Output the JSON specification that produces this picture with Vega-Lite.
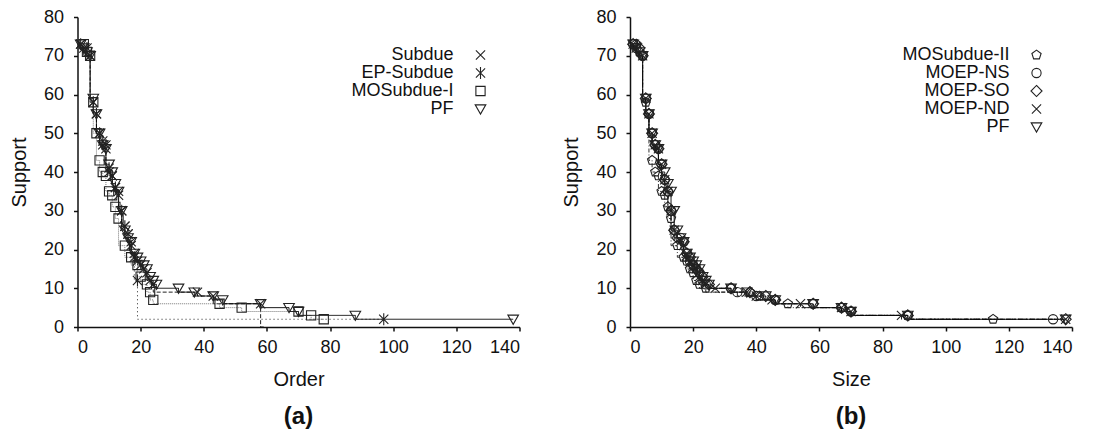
{
  "$schema": "https://vega.github.io/schema/vega-lite/v6.json",
  "background": "white",
  "padding": {"left": 8.5, "top": 8, "right": 9, "bottom": 0},
  "spacing": 39.5,
  "config": {
    "font": "Liberation Sans",
    "view": {"stroke": null},
    "axis": {"domainColor": "#111", "domainWidth": 1.5, "tickColor": "#111", "tickWidth": 1.5, "tickSize": 4, "labelFont": "Liberation Sans", "labelFontSize": 18, "labelColor": "#111", "titleFont": "Liberation Sans", "titleFontSize": 20, "titleFontWeight": "normal", "titleColor": "#111", "grid": false},
    "axisX": {"labelPadding": 7, "titlePadding": 13},
    "axisY": {"labelPadding": 10, "titlePadding": 14},
    "title": {"font": "Liberation Sans", "fontSize": 24, "fontWeight": "bold", "color": "#111"}
  },
  "datasets": {
    "a": [
      {"series": "Subdue", "x": 1, "support": 73}, {"series": "Subdue", "x": 2, "support": 72}, {"series": "Subdue", "x": 4, "support": 70}, {"series": "Subdue", "x": 5, "support": 58}, {"series": "Subdue", "x": 6, "support": 55}, {"series": "Subdue", "x": 7, "support": 50}, {"series": "Subdue", "x": 8, "support": 47}, {"series": "Subdue", "x": 9, "support": 46}, {"series": "Subdue", "x": 10, "support": 40}, {"series": "Subdue", "x": 11, "support": 39}, {"series": "Subdue", "x": 12, "support": 36}, {"series": "Subdue", "x": 13, "support": 35}, {"series": "Subdue", "x": 14, "support": 30}, {"series": "Subdue", "x": 15, "support": 26}, {"series": "Subdue", "x": 16, "support": 24}, {"series": "Subdue", "x": 17, "support": 22}, {"series": "Subdue", "x": 18, "support": 19}, {"series": "Subdue", "x": 19, "support": 17}, {"series": "Subdue", "x": 20, "support": 16}, {"series": "Subdue", "x": 21, "support": 15}, {"series": "Subdue", "x": 22, "support": 14}, {"series": "Subdue", "x": 23, "support": 12}, {"series": "Subdue", "x": 24, "support": 11}, {"series": "Subdue", "x": 38, "support": 9}, {"series": "Subdue", "x": 43, "support": 8}, {"series": "Subdue", "x": 58, "support": 6}, {"series": "Subdue", "x": 59, "support": 0},
      {"series": "EP-Subdue", "x": 1, "support": 73}, {"series": "EP-Subdue", "x": 3, "support": 72}, {"series": "EP-Subdue", "x": 4, "support": 70}, {"series": "EP-Subdue", "x": 5, "support": 58}, {"series": "EP-Subdue", "x": 6, "support": 55}, {"series": "EP-Subdue", "x": 7, "support": 50}, {"series": "EP-Subdue", "x": 8, "support": 48}, {"series": "EP-Subdue", "x": 9, "support": 47}, {"series": "EP-Subdue", "x": 10, "support": 41}, {"series": "EP-Subdue", "x": 11, "support": 39}, {"series": "EP-Subdue", "x": 12, "support": 36}, {"series": "EP-Subdue", "x": 13, "support": 34}, {"series": "EP-Subdue", "x": 14, "support": 30}, {"series": "EP-Subdue", "x": 15, "support": 26}, {"series": "EP-Subdue", "x": 16, "support": 24}, {"series": "EP-Subdue", "x": 17, "support": 21}, {"series": "EP-Subdue", "x": 18, "support": 18}, {"series": "EP-Subdue", "x": 19, "support": 12}, {"series": "EP-Subdue", "x": 97, "support": 2},
      {"series": "MOSubdue-I", "x": 2, "support": 73}, {"series": "MOSubdue-I", "x": 3, "support": 71}, {"series": "MOSubdue-I", "x": 4, "support": 70}, {"series": "MOSubdue-I", "x": 5, "support": 58}, {"series": "MOSubdue-I", "x": 6, "support": 50}, {"series": "MOSubdue-I", "x": 7, "support": 43}, {"series": "MOSubdue-I", "x": 8, "support": 40}, {"series": "MOSubdue-I", "x": 9, "support": 39}, {"series": "MOSubdue-I", "x": 10, "support": 35}, {"series": "MOSubdue-I", "x": 11, "support": 34}, {"series": "MOSubdue-I", "x": 12, "support": 31}, {"series": "MOSubdue-I", "x": 13, "support": 28}, {"series": "MOSubdue-I", "x": 15, "support": 21}, {"series": "MOSubdue-I", "x": 17, "support": 18}, {"series": "MOSubdue-I", "x": 19, "support": 16}, {"series": "MOSubdue-I", "x": 20, "support": 13}, {"series": "MOSubdue-I", "x": 22, "support": 11}, {"series": "MOSubdue-I", "x": 23, "support": 9}, {"series": "MOSubdue-I", "x": 24, "support": 7}, {"series": "MOSubdue-I", "x": 45, "support": 6}, {"series": "MOSubdue-I", "x": 52, "support": 5}, {"series": "MOSubdue-I", "x": 70, "support": 4}, {"series": "MOSubdue-I", "x": 74, "support": 3}, {"series": "MOSubdue-I", "x": 78, "support": 2},
      {"series": "PF", "x": 1, "support": 73}, {"series": "PF", "x": 2, "support": 72}, {"series": "PF", "x": 3, "support": 71}, {"series": "PF", "x": 4, "support": 70}, {"series": "PF", "x": 5, "support": 59}, {"series": "PF", "x": 6, "support": 55}, {"series": "PF", "x": 7, "support": 50}, {"series": "PF", "x": 8, "support": 47}, {"series": "PF", "x": 9, "support": 46}, {"series": "PF", "x": 10, "support": 42}, {"series": "PF", "x": 11, "support": 40}, {"series": "PF", "x": 12, "support": 37}, {"series": "PF", "x": 13, "support": 35}, {"series": "PF", "x": 14, "support": 30}, {"series": "PF", "x": 15, "support": 25}, {"series": "PF", "x": 16, "support": 23}, {"series": "PF", "x": 17, "support": 22}, {"series": "PF", "x": 18, "support": 19}, {"series": "PF", "x": 19, "support": 18}, {"series": "PF", "x": 20, "support": 17}, {"series": "PF", "x": 21, "support": 16}, {"series": "PF", "x": 22, "support": 15}, {"series": "PF", "x": 23, "support": 13}, {"series": "PF", "x": 24, "support": 12}, {"series": "PF", "x": 25, "support": 11}, {"series": "PF", "x": 32, "support": 10}, {"series": "PF", "x": 37, "support": 9}, {"series": "PF", "x": 43, "support": 8}, {"series": "PF", "x": 46, "support": 7}, {"series": "PF", "x": 58, "support": 6}, {"series": "PF", "x": 67, "support": 5}, {"series": "PF", "x": 70, "support": 4}, {"series": "PF", "x": 88, "support": 3}, {"series": "PF", "x": 138, "support": 2}
    ],
    "b": [
      {"series": "MOSubdue-II", "x": 2, "support": 73}, {"series": "MOSubdue-II", "x": 3, "support": 71}, {"series": "MOSubdue-II", "x": 4, "support": 70}, {"series": "MOSubdue-II", "x": 5, "support": 58}, {"series": "MOSubdue-II", "x": 6, "support": 55}, {"series": "MOSubdue-II", "x": 7, "support": 43}, {"series": "MOSubdue-II", "x": 8, "support": 40}, {"series": "MOSubdue-II", "x": 9, "support": 39}, {"series": "MOSubdue-II", "x": 10, "support": 35}, {"series": "MOSubdue-II", "x": 11, "support": 34}, {"series": "MOSubdue-II", "x": 12, "support": 31}, {"series": "MOSubdue-II", "x": 13, "support": 28}, {"series": "MOSubdue-II", "x": 15, "support": 21}, {"series": "MOSubdue-II", "x": 17, "support": 18}, {"series": "MOSubdue-II", "x": 18, "support": 17}, {"series": "MOSubdue-II", "x": 19, "support": 15}, {"series": "MOSubdue-II", "x": 20, "support": 14}, {"series": "MOSubdue-II", "x": 21, "support": 12}, {"series": "MOSubdue-II", "x": 22, "support": 11}, {"series": "MOSubdue-II", "x": 24, "support": 10}, {"series": "MOSubdue-II", "x": 38, "support": 9}, {"series": "MOSubdue-II", "x": 41, "support": 8}, {"series": "MOSubdue-II", "x": 46, "support": 7}, {"series": "MOSubdue-II", "x": 50, "support": 6}, {"series": "MOSubdue-II", "x": 67, "support": 5}, {"series": "MOSubdue-II", "x": 70, "support": 4}, {"series": "MOSubdue-II", "x": 88, "support": 3}, {"series": "MOSubdue-II", "x": 115, "support": 2},
      {"series": "MOEP-NS", "x": 1, "support": 73}, {"series": "MOEP-NS", "x": 2, "support": 72}, {"series": "MOEP-NS", "x": 4, "support": 70}, {"series": "MOEP-NS", "x": 5, "support": 59}, {"series": "MOEP-NS", "x": 6, "support": 55}, {"series": "MOEP-NS", "x": 7, "support": 50}, {"series": "MOEP-NS", "x": 8, "support": 47}, {"series": "MOEP-NS", "x": 9, "support": 46}, {"series": "MOEP-NS", "x": 10, "support": 42}, {"series": "MOEP-NS", "x": 11, "support": 38}, {"series": "MOEP-NS", "x": 12, "support": 35}, {"series": "MOEP-NS", "x": 13, "support": 30}, {"series": "MOEP-NS", "x": 14, "support": 25}, {"series": "MOEP-NS", "x": 16, "support": 23}, {"series": "MOEP-NS", "x": 17, "support": 22}, {"series": "MOEP-NS", "x": 18, "support": 19}, {"series": "MOEP-NS", "x": 19, "support": 17}, {"series": "MOEP-NS", "x": 20, "support": 16}, {"series": "MOEP-NS", "x": 21, "support": 15}, {"series": "MOEP-NS", "x": 22, "support": 14}, {"series": "MOEP-NS", "x": 23, "support": 12}, {"series": "MOEP-NS", "x": 24, "support": 11}, {"series": "MOEP-NS", "x": 32, "support": 10}, {"series": "MOEP-NS", "x": 34, "support": 9}, {"series": "MOEP-NS", "x": 40, "support": 8}, {"series": "MOEP-NS", "x": 46, "support": 7}, {"series": "MOEP-NS", "x": 58, "support": 6}, {"series": "MOEP-NS", "x": 67, "support": 5}, {"series": "MOEP-NS", "x": 70, "support": 4}, {"series": "MOEP-NS", "x": 88, "support": 3}, {"series": "MOEP-NS", "x": 134, "support": 2},
      {"series": "MOEP-SO", "x": 1, "support": 73}, {"series": "MOEP-SO", "x": 3, "support": 72}, {"series": "MOEP-SO", "x": 4, "support": 70}, {"series": "MOEP-SO", "x": 5, "support": 59}, {"series": "MOEP-SO", "x": 6, "support": 55}, {"series": "MOEP-SO", "x": 7, "support": 50}, {"series": "MOEP-SO", "x": 8, "support": 47}, {"series": "MOEP-SO", "x": 9, "support": 46}, {"series": "MOEP-SO", "x": 10, "support": 42}, {"series": "MOEP-SO", "x": 11, "support": 38}, {"series": "MOEP-SO", "x": 12, "support": 35}, {"series": "MOEP-SO", "x": 13, "support": 30}, {"series": "MOEP-SO", "x": 14, "support": 25}, {"series": "MOEP-SO", "x": 15, "support": 23}, {"series": "MOEP-SO", "x": 17, "support": 22}, {"series": "MOEP-SO", "x": 18, "support": 19}, {"series": "MOEP-SO", "x": 19, "support": 18}, {"series": "MOEP-SO", "x": 20, "support": 16}, {"series": "MOEP-SO", "x": 21, "support": 15}, {"series": "MOEP-SO", "x": 22, "support": 14}, {"series": "MOEP-SO", "x": 23, "support": 13}, {"series": "MOEP-SO", "x": 25, "support": 11}, {"series": "MOEP-SO", "x": 32, "support": 10}, {"series": "MOEP-SO", "x": 38, "support": 9}, {"series": "MOEP-SO", "x": 43, "support": 8}, {"series": "MOEP-SO", "x": 46, "support": 7}, {"series": "MOEP-SO", "x": 58, "support": 6}, {"series": "MOEP-SO", "x": 67, "support": 5}, {"series": "MOEP-SO", "x": 70, "support": 4}, {"series": "MOEP-SO", "x": 88, "support": 3}, {"series": "MOEP-SO", "x": 138, "support": 2},
      {"series": "MOEP-ND", "x": 1, "support": 73}, {"series": "MOEP-ND", "x": 2, "support": 72}, {"series": "MOEP-ND", "x": 4, "support": 70}, {"series": "MOEP-ND", "x": 5, "support": 59}, {"series": "MOEP-ND", "x": 6, "support": 55}, {"series": "MOEP-ND", "x": 7, "support": 50}, {"series": "MOEP-ND", "x": 8, "support": 47}, {"series": "MOEP-ND", "x": 9, "support": 46}, {"series": "MOEP-ND", "x": 10, "support": 42}, {"series": "MOEP-ND", "x": 11, "support": 38}, {"series": "MOEP-ND", "x": 12, "support": 35}, {"series": "MOEP-ND", "x": 13, "support": 30}, {"series": "MOEP-ND", "x": 14, "support": 25}, {"series": "MOEP-ND", "x": 16, "support": 22}, {"series": "MOEP-ND", "x": 17, "support": 21}, {"series": "MOEP-ND", "x": 18, "support": 19}, {"series": "MOEP-ND", "x": 19, "support": 17}, {"series": "MOEP-ND", "x": 20, "support": 16}, {"series": "MOEP-ND", "x": 21, "support": 15}, {"series": "MOEP-ND", "x": 22, "support": 13}, {"series": "MOEP-ND", "x": 23, "support": 12}, {"series": "MOEP-ND", "x": 24, "support": 11}, {"series": "MOEP-ND", "x": 27, "support": 10}, {"series": "MOEP-ND", "x": 37, "support": 9}, {"series": "MOEP-ND", "x": 40, "support": 8}, {"series": "MOEP-ND", "x": 45, "support": 7}, {"series": "MOEP-ND", "x": 54, "support": 6}, {"series": "MOEP-ND", "x": 67, "support": 5}, {"series": "MOEP-ND", "x": 70, "support": 4}, {"series": "MOEP-ND", "x": 86, "support": 3}, {"series": "MOEP-ND", "x": 138, "support": 2},
      {"series": "PF", "x": 1, "support": 73}, {"series": "PF", "x": 2, "support": 72}, {"series": "PF", "x": 3, "support": 71}, {"series": "PF", "x": 4, "support": 70}, {"series": "PF", "x": 5, "support": 59}, {"series": "PF", "x": 6, "support": 55}, {"series": "PF", "x": 7, "support": 50}, {"series": "PF", "x": 8, "support": 47}, {"series": "PF", "x": 9, "support": 46}, {"series": "PF", "x": 10, "support": 42}, {"series": "PF", "x": 11, "support": 40}, {"series": "PF", "x": 12, "support": 37}, {"series": "PF", "x": 13, "support": 35}, {"series": "PF", "x": 14, "support": 30}, {"series": "PF", "x": 15, "support": 25}, {"series": "PF", "x": 16, "support": 23}, {"series": "PF", "x": 17, "support": 22}, {"series": "PF", "x": 18, "support": 19}, {"series": "PF", "x": 19, "support": 18}, {"series": "PF", "x": 20, "support": 17}, {"series": "PF", "x": 21, "support": 16}, {"series": "PF", "x": 22, "support": 15}, {"series": "PF", "x": 23, "support": 13}, {"series": "PF", "x": 24, "support": 12}, {"series": "PF", "x": 25, "support": 11}, {"series": "PF", "x": 32, "support": 10}, {"series": "PF", "x": 37, "support": 9}, {"series": "PF", "x": 43, "support": 8}, {"series": "PF", "x": 46, "support": 7}, {"series": "PF", "x": 58, "support": 6}, {"series": "PF", "x": 67, "support": 5}, {"series": "PF", "x": 70, "support": 4}, {"series": "PF", "x": 88, "support": 3}, {"series": "PF", "x": 138, "support": 2}
    ]
  },
  "hconcat": [
    {
      "width": 442,
      "height": 310,
      "data": {"name": "a"},
      "title": {"text": "(a)", "orient": "bottom", "offset": 16},
      "encoding": {
        "x": {"field": "x", "type": "quantitative", "scale": {"domain": [0, 140], "nice": false}, "axis": {"title": "Order", "values": [0, 20, 40, 60, 80, 100, 120, 140]}},
        "y": {"field": "support", "type": "quantitative", "scale": {"domain": [0, 80], "nice": false}, "axis": {"title": "Support", "values": [0, 10, 20, 30, 40, 50, 60, 70, 80]}}
      },
      "layer": [
        {
          "mark": {"type": "line", "interpolate": "step-before", "strokeWidth": 1, "clip": true},
          "encoding": {
            "strokeDash": {"field": "series", "type": "nominal", "scale": {"domain": ["PF", "Subdue", "EP-Subdue", "MOSubdue-I"], "range": [[1, 0], [4, 2], [1, 3], [1, 1]]}, "legend": null},
            "color": {"field": "series", "type": "nominal", "scale": {"domain": ["EP-Subdue", "MOSubdue-I", "PF", "Subdue"], "range": ["#222", "#777", "#000", "#222"]}, "legend": null}
          }
        },
        {
          "mark": {"type": "point", "filled": false, "size": 85, "strokeWidth": 1.1, "opacity": 1, "color": "#222"},
          "transform": [{"filter": "datum.support > 0"}],
          "encoding": {
            "shape": {
              "field": "series", "type": "nominal",
              "scale": {"domain": ["Subdue", "EP-Subdue", "MOSubdue-I", "PF"], "range": ["M-1,-1L1,1M-1,1L1,-1", "M-1,-1L1,1M-1,1L1,-1M0,-1.3L0,1.3", "M-1,-1L1,-1L1,1L-1,1Z", "M-1.15,-0.9L1.15,-0.9L0,1.1Z"]},
              "legend": {
                "orient": "none", "legendX": 394, "legendY": 29, "title": null,
                "labelAlign": "right", "labelOffset": -36, "labelFontSize": 18, "labelFont": "Liberation Sans", "labelColor": "#111", "labelLimit": 300,
                "symbolSize": 85, "symbolStrokeWidth": 1.1, "rowPadding": 0, "padding": 0
              }
            }
          }
        }
      ]
    },
    {
      "width": 442,
      "height": 310,
      "data": {"name": "b"},
      "title": {"text": "(b)", "orient": "bottom", "offset": 16},
      "encoding": {
        "x": {"field": "x", "type": "quantitative", "scale": {"domain": [0, 140], "nice": false}, "axis": {"title": "Size", "values": [0, 20, 40, 60, 80, 100, 120, 140]}},
        "y": {"field": "support", "type": "quantitative", "scale": {"domain": [0, 80], "nice": false}, "axis": {"title": "Support", "values": [0, 10, 20, 30, 40, 50, 60, 70, 80]}}
      },
      "layer": [
        {
          "mark": {"type": "line", "interpolate": "step-before", "strokeWidth": 1, "clip": true},
          "encoding": {
            "strokeDash": {"field": "series", "type": "nominal", "scale": {"domain": ["PF", "MOSubdue-II", "MOEP-NS", "MOEP-SO", "MOEP-ND"], "range": [[1, 0], [4, 2, 1, 2], [6, 2, 1, 2], [1, 3], [4, 2]]}, "legend": null},
            "color": {"field": "series", "type": "nominal", "scale": {"domain": ["MOEP-NS", "MOEP-SO", "MOEP-ND", "PF", "MOSubdue-II"], "range": ["#222", "#333", "#222", "#000", "#333"]}, "legend": null}
          }
        },
        {
          "mark": {"type": "point", "filled": false, "size": 85, "strokeWidth": 1.1, "opacity": 1, "color": "#222"},
          "encoding": {
            "shape": {
              "field": "series", "type": "nominal",
              "scale": {"domain": ["MOSubdue-II", "MOEP-NS", "MOEP-SO", "MOEP-ND", "PF"], "range": ["M0,-1.05L1,-0.32L0.62,0.85L-0.62,0.85L-1,-0.32Z", "M1,0A1,1,0,1,1,-1,0A1,1,0,1,1,1,0Z", "M0,-1.2L1.2,0L0,1.2L-1.2,0Z", "M-1,-1L1,1M-1,1L1,-1", "M-1.15,-0.9L1.15,-0.9L0,1.1Z"]},
              "legend": {
                "orient": "none", "legendX": 397.5, "legendY": 29, "title": null,
                "labelAlign": "right", "labelOffset": -36, "labelFontSize": 18, "labelFont": "Liberation Sans", "labelColor": "#111", "labelLimit": 300,
                "symbolSize": 85, "symbolStrokeWidth": 1.1, "rowPadding": 0, "padding": 0
              }
            }
          }
        }
      ]
    }
  ],
  "resolve": {"scale": {"shape": "independent", "strokeDash": "independent", "color": "independent"}, "legend": {"shape": "independent"}}
}
